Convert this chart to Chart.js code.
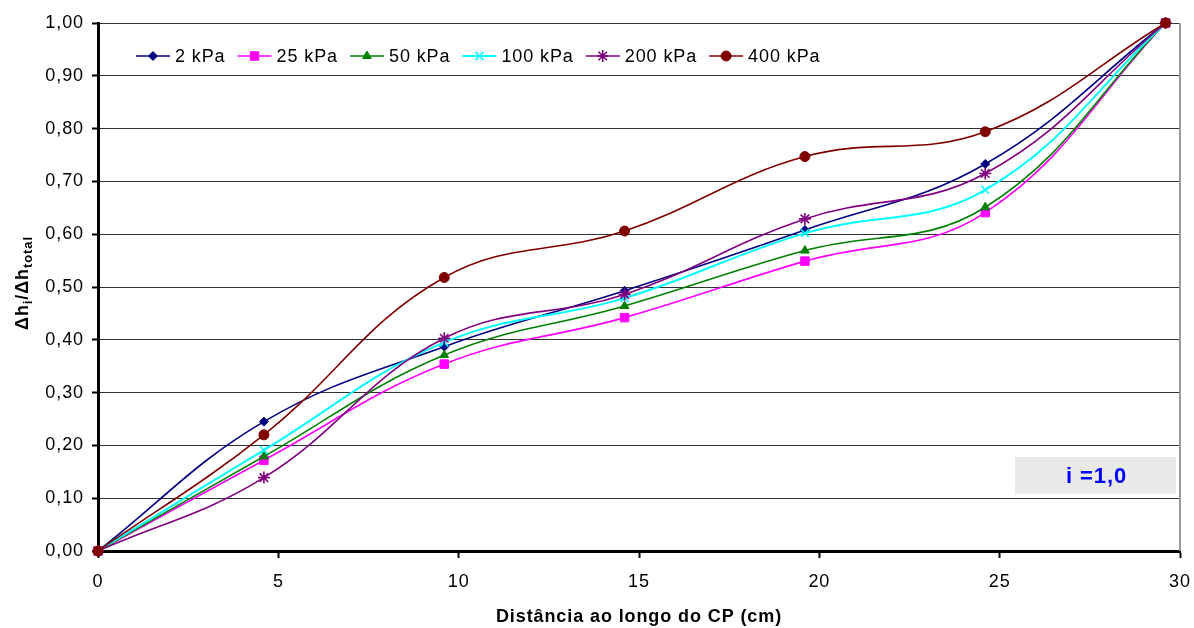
<!DOCTYPE html>
<html>
<head>
<meta charset="utf-8">
<script src="https://cdn.jsdelivr.net/npm/chart.js@4/dist/chart.umd.min.js"></script>
<style>
  html, body { margin: 0; padding: 0; background: #fff; }
  #c { display: block; }
</style>
</head>
<body>
<canvas id="c" width="1194" height="628"></canvas>
<script>
// ---- data ----
const distances = [0, 4.6, 9.6, 14.6, 19.6, 24.6, 29.6];
const p2   = [0, 0.245, 0.387, 0.493, 0.608, 0.733, 1.00];
const p25  = [0, 0.172, 0.354, 0.442, 0.549, 0.641, 1.00];
const p50  = [0, 0.179, 0.371, 0.464, 0.569, 0.651, 1.00];
const p100 = [0, 0.191, 0.395, 0.479, 0.602, 0.684, 1.00];
const p200 = [0, 0.139, 0.403, 0.486, 0.629, 0.715, 1.00];
const p400 = [0, 0.220, 0.518, 0.606, 0.747, 0.794, 1.00];
const seriesNames = ['2 kPa', '25 kPa', '50 kPa', '100 kPa', '200 kPa', '400 kPa'];
const yTickLabels = ['0,00','0,10','0,20','0,30','0,40','0,50','0,60','0,70','0,80','0,90','1,00'];
const xTickLabels = ['0','5','10','15','20','25','30'];
const xTitle = 'Distância ao longo do CP (cm)';
const annotationText = 'i =1,0';

const FONT = "'Liberation Sans', Arial, sans-serif";
const LS = '0.9px';
const FS = 18;

const styles = [
  { color: '#000080', pointStyle: 'rectRot', radius: 4.5, width: 1.6 },
  { color: '#ff00ff', pointStyle: 'rect', radius: 6, width: 1.6 },
  { color: '#008000', pointStyle: 'triangle', radius: 5, width: 1.6 },
  { color: '#00ffff', pointStyle: 'crossRot', radius: 5.5, width: 2 },
  { color: '#800080', pointStyle: 'star', radius: 6, width: 1.6 },
  { color: '#800000', pointStyle: 'circle', radius: 5, width: 1.6 }
];
const seriesValues = [p2, p25, p50, p100, p200, p400];

const datasets = seriesValues.map((vals, i) => ({
  label: seriesNames[i],
  data: vals.map((v, j) => ({ x: distances[j], y: v })),
  borderColor: styles[i].color,
  backgroundColor: styles[i].color,
  pointBackgroundColor: styles[i].color,
  pointBorderColor: styles[i].color,
  pointStyle: styles[i].pointStyle,
  pointRadius: styles[i].radius,
  pointBorderWidth: styles[i].pointStyle.startsWith('cross') || styles[i].pointStyle === 'star' ? 1.6 : 1,
  borderWidth: styles[i].width,
  tension: 0.4,
  fill: false,
  clip: false,
  order: seriesValues.length - i
}));

const deco = {
  id: 'deco',
  beforeDraw(chart) {
    chart.ctx.letterSpacing = LS;
  },
  afterDraw(chart) {
    const { ctx, chartArea: a } = chart;
    ctx.save();
    ctx.letterSpacing = LS;
    // right border of plot area
    ctx.strokeStyle = '#9a9a9a';
    ctx.lineWidth = 2;
    ctx.beginPath();
    ctx.moveTo(a.right, a.top);
    ctx.lineTo(a.right, a.bottom);
    ctx.stroke();

    // legend inside plot
    ctx.font = FS + 'px ' + FONT;
    ctx.textBaseline = 'middle';
    ctx.textAlign = 'left';
    let x = 136;
    const ly = 56;
    chart.data.datasets.forEach((ds, i) => {
      const st = styles[i];
      ctx.strokeStyle = st.color;
      ctx.lineWidth = st.width;
      ctx.beginPath();
      ctx.moveTo(x, ly);
      ctx.lineTo(x + 34, ly);
      ctx.stroke();
      ctx.fillStyle = st.color;
      ctx.lineWidth = ds.pointBorderWidth;
      Chart.helpers.drawPoint(ctx, { pointStyle: st.pointStyle, radius: st.radius, borderWidth: ds.pointBorderWidth, rotation: 0 }, x + 17, ly);
      ctx.fillStyle = '#000';
      const tx = x + 39;
      ctx.fillText(ds.label, tx, ly + 1);
      const w = ctx.measureText(ds.label).width;
      x = tx + w + 12;
    });

    // annotation box
    ctx.fillStyle = '#eaeaea';
    const bx = 1015, by = 457, bw = 161, bh = 37;
    ctx.fillRect(bx, by, bw, bh);
    ctx.fillStyle = '#0000ff';
    ctx.font = 'bold 22px ' + FONT;
    ctx.textAlign = 'center';
    ctx.fillText(annotationText, bx + bw / 2 + 1, by + bh / 2 + 1);

    // y axis title with subscripts
    const mainF = 'bold 18px ' + FONT;
    const subF = 'bold 13px ' + FONT;
    const parts = [['Δh', mainF, 0], ['i', subF, 4], ['/Δh', mainF, 0], ['total', subF, 4]];
    let total = 0;
    parts.forEach(p => { ctx.font = p[1]; total += ctx.measureText(p[0]).width; });
    ctx.translate(28, 283);
    ctx.rotate(-Math.PI / 2);
    ctx.fillStyle = '#000';
    ctx.textAlign = 'left';
    ctx.textBaseline = 'alphabetic';
    let px = -total / 2;
    parts.forEach(p => {
      ctx.font = p[1];
      ctx.fillText(p[0], px, p[2]);
      px += ctx.measureText(p[0]).width;
    });
    ctx.restore();
  }
};

new Chart(document.getElementById('c'), {
  type: 'line',
  data: { datasets },
  options: {
    responsive: false,
    animation: false,
    devicePixelRatio: 1,
    layout: { padding: { top: 23, right: 0, left: 0, bottom: 0 } },
    plugins: { legend: { display: false }, tooltip: { enabled: false } },
    scales: {
      x: {
        type: 'linear',
        min: 0, max: 30,
        afterFit(s) { s.height = 77; s.paddingRight = 14; },
        ticks: {
          stepSize: 5,
          color: '#000',
          font: { family: FONT, size: FS },
          padding: 13,
          maxRotation: 0,
          callback: (v, i) => xTickLabels[i]
        },
        grid: { drawOnChartArea: false, drawTicks: true, tickLength: 7, tickColor: '#000', tickWidth: 2 },
        border: { display: true, color: '#000', width: 3 },
        title: {
          display: true, text: xTitle, color: '#000',
          font: { family: FONT, size: FS, weight: 'bold' },
          padding: { top: 0, bottom: 0 }
        }
      },
      y: {
        type: 'linear',
        min: 0, max: 1,
        afterFit(s) { s.width = 98; },
        ticks: {
          stepSize: 0.1,
          color: '#000',
          font: { family: FONT, size: FS },
          padding: 8,
          callback: (v, i) => yTickLabels[i]
        },
        grid: { color: '#333', lineWidth: 1, drawTicks: true, tickLength: 6, tickColor: '#000', tickWidth: 2 },
        border: { display: true, color: '#000', width: 3 }
      }
    }
  },
  plugins: [deco]
});
</script>
</body>
</html>
